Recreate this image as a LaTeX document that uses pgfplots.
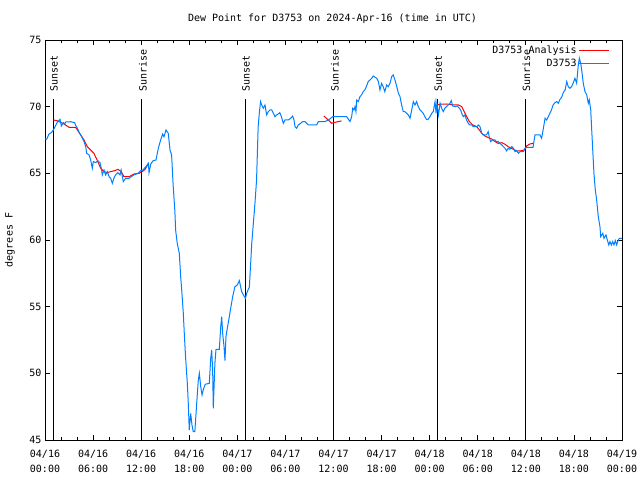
\documentclass[border=0pt]{standalone}
\usepackage{pgfplots}
\pgfplotsset{compat=1.18}
\usepackage{fontspec}
\setmainfont{DejaVu Sans Mono}
\definecolor{dblue}{RGB}{0,128,255}
\begin{document}
\begin{tikzpicture}
\path[use as bounding box] (0,0) rectangle (640bp,480bp);
\begin{axis}[
 at={(45bp,40bp)}, anchor=south west,
 scale only axis, width=577bp, height=400bp,
 xmin=0, xmax=72, ymin=45, ymax=75,
 xtick={0,6,...,72}, minor x tick num=2,
 xticklabels={{04/16\\00:00},{04/16\\06:00},{04/16\\12:00},{04/16\\18:00},{04/17\\00:00},{04/17\\06:00},{04/17\\12:00},{04/17\\18:00},{04/18\\00:00},{04/18\\06:00},{04/18\\12:00},{04/18\\18:00},{04/19\\00:00}},
 ytick={45,50,...,75},
 font=\fontsize{10bp}{12bp}\selectfont,
 xticklabel style={align=center, font=\fontsize{10bp}{15bp}\selectfont, yshift=-7bp},
 /pgf/number format/assume math mode=true,
 axis line style={line width=0.8bp},
 every tick/.style={black, line width=0.8bp},
 major tick length=5bp, minor tick length=3bp,
 title={Dew Point for D3753 on 2024-Apr-16 (time in UTC)},
 every axis title/.style={at={(axis description cs:0.4983,1)}, anchor=center, yshift=21bp},
 ylabel={degrees F},
 every axis y label/.style={at={(axis description cs:-0.0607,0.5)}, rotate=90, anchor=center},
 legend plot pos=right,
 legend cell align=right,
 legend style={at={(rel axis cs:0.979,0.99)}, anchor=north east, draw=none, fill=none, inner sep=0pt, row sep=0pt, font=\fontsize{10bp}{12bp}\selectfont},
 legend image code/.code={\draw[#1] (0bp,0bp) -- (30bp,0bp);},
 clip=true,
]
\addplot[black, line width=1bp, forget plot] coordinates {(1.0,45)(1.0,70.6)};
\addplot[black, line width=1bp, forget plot] coordinates {(12.1,45)(12.1,70.6)};
\addplot[black, line width=1bp, forget plot] coordinates {(24.97,45)(24.97,70.6)};
\addplot[black, line width=1bp, forget plot] coordinates {(36.05,45)(36.05,70.6)};
\addplot[black, line width=1bp, forget plot] coordinates {(48.93,45)(48.93,70.6)};
\addplot[black, line width=1bp, forget plot] coordinates {(59.95,45)(59.95,70.6)};
\addplot[red, line width=1bp, unbounded coords=jump] coordinates {
(1.04,69.0)(1.5,68.95)(2.37,68.7)(3.0,68.45)(3.83,68.45)(4.04,68.25)(4.45,67.88)(4.87,67.5)(5.28,67.0)(5.7,66.75)(6.1,66.5)(6.5,66.0)(6.95,65.38)(7.36,65.13)(7.77,65.05)(8.2,65.13)(8.7,65.2)(9.1,65.3)(9.5,65.13)(9.86,64.75)(10.5,64.75)(11.1,64.95)(11.73,65.0)(12.14,65.13)(12.5,65.3)(12.9,65.75)
(13,nan)
(34.8,69.3)(35.56,68.88)(35.77,68.75)(36.0,68.8)(36.6,68.88)(37.0,68.93)
(38,nan)
(48.9,70.13)(49.3,70.18)(50.1,70.2)(50.95,70.13)(51.57,70.13)(52.0,70.0)(52.3,69.63)(52.62,69.25)(52.95,68.88)(53.37,68.63)(53.87,68.5)(54.2,68.25)(54.5,68.0)(54.9,67.8)(55.3,67.68)(55.73,67.58)(56.15,67.38)(56.55,67.25)(57.0,67.3)(57.4,67.18)(57.8,67.0)(58.45,66.8)(58.86,66.68)(59.3,66.68)(59.8,66.75)(60.1,67.05)(60.5,67.2)(60.9,67.25)
};
\addlegendentry{D3753 Analysis}
\addplot[dblue, line width=1bp] coordinates {
(0,67.6)(0.2,67.55)(0.5,67.95)(0.8,68.05)(1.04,68.25)(1.33,68.6)(1.5,68.8)(1.87,69.05)(2.04,68.55)(2.28,68.8)(2.46,68.7)(2.58,68.85)(3.2,68.87)(3.7,68.8)(3.83,68.6)(4.04,68.38)(4.24,68.1)(4.45,67.88)(4.66,67.63)(4.87,67.38)(5.08,67.0)(5.2,66.5)(5.5,66.38)(5.7,66.0)(5.9,65.38)(6.03,65.88)(6.33,65.8)(6.6,65.95)(6.86,65.8)(7.03,65.38)(7.15,64.88)(7.36,65.25)(7.57,64.88)(7.77,65.13)(8.0,64.75)(8.2,64.63)(8.4,64.25)(8.6,64.63)(8.8,64.88)(9.1,65.05)(9.36,64.88)(9.5,65.25)(9.77,64.38)(10.07,64.63)(10.5,64.63)(10.77,64.75)(11.1,64.88)(11.6,65.0)(11.94,65.2)(12.2,65.25)(12.6,65.5)(12.9,65.75)(12.98,65.05)(13.2,65.7)(13.5,65.95)(13.85,66.0)(14.14,66.88)(14.43,67.5)(14.68,67.95)(14.85,67.75)(15.1,68.25)(15.38,68.0)(15.6,66.75)(15.8,66.38)(16.0,64.0)(16.2,62.25)(16.3,60.75)(16.5,59.75)(16.76,59.0)(16.93,57.25)(17.06,56.25)(17.26,54.5)(17.38,53.0)(17.55,51.13)(17.76,49.25)(17.88,47.75)(18.0,45.75)(18.18,47.0)(18.34,46.13)(18.5,45.63)(18.7,45.63)(18.93,47.75)(19.13,49.5)(19.26,50.0)(19.43,49.0)(19.6,48.38)(19.76,48.8)(20.0,49.18)(20.5,49.25)(20.68,51.13)(20.8,51.75)(20.92,50.25)(21.0,47.38)(21.2,50.75)(21.34,51.8)(21.75,51.8)(21.93,53.5)(22.05,54.25)(22.17,53.0)(22.34,52.0)(22.46,50.95)(22.58,52.75)(22.75,53.38)(23.0,54.25)(23.17,54.88)(23.42,55.75)(23.7,56.5)(24.0,56.63)(24.25,56.95)(24.54,56.13)(24.83,55.8)(25.0,55.63)(25.24,56.13)(25.5,56.45)(25.8,59.75)(26.2,62.75)(26.4,64.5)(26.6,68.5)(26.74,69.5)(26.9,70.38)(27.04,70.13)(27.24,69.88)(27.45,70.13)(27.66,69.38)(27.87,69.63)(28.08,69.75)(28.3,69.75)(28.5,69.5)(28.7,69.25)(28.9,69.38)(29.1,69.45)(29.3,69.55)(29.5,69.25)(29.74,68.75)(29.95,69.0)(30.36,69.0)(30.66,69.13)(30.9,69.3)(31.07,69.0)(31.2,68.5)(31.4,68.38)(31.6,68.63)(31.9,68.75)(32.15,68.88)(32.44,68.88)(32.65,68.75)(32.86,68.63)(33.9,68.63)(34.1,68.88)(34.94,68.88)(35.35,69.0)(35.65,69.13)(35.9,69.25)(37.64,69.25)(38.06,68.88)(38.27,69.25)(38.4,69.88)(38.55,69.75)(38.68,70.0)(38.8,69.63)(38.9,70.5)(39.1,70.38)(39.3,70.75)(39.5,70.88)(39.7,71.13)(39.9,71.25)(40.1,71.5)(40.33,71.88)(40.55,72.0)(40.77,72.13)(40.96,72.3)(41.2,72.2)(41.4,72.13)(41.6,71.88)(41.8,71.25)(42.0,71.75)(42.2,71.5)(42.4,71.13)(42.64,71.63)(42.84,71.5)(43.05,71.75)(43.26,72.25)(43.46,72.38)(43.67,72.0)(43.9,71.5)(44.1,71.0)(44.3,70.75)(44.5,70.13)(44.7,69.63)(44.9,69.63)(45.13,69.5)(45.33,69.38)(45.55,69.13)(45.76,69.75)(45.96,70.38)(46.17,70.13)(46.37,70.38)(46.58,70.0)(46.8,69.75)(47.0,69.63)(47.2,69.5)(47.4,69.25)(47.6,69.05)(47.8,69.05)(48.04,69.25)(48.25,69.5)(48.45,69.63)(48.67,70.38)(48.8,69.5)(48.9,70.25)(49.1,69.38)(49.3,70.25)(49.5,69.88)(49.7,69.63)(49.9,69.88)(50.1,70.0)(50.33,70.13)(50.54,70.25)(50.7,70.45)(50.87,70.05)(51.16,70.0)(51.45,70.05)(51.7,69.88)(51.87,69.75)(52.0,69.5)(52.2,69.25)(52.4,69.38)(52.6,69.0)(52.82,68.75)(53.0,68.63)(53.24,68.63)(53.45,68.5)(53.87,68.5)(54.07,68.63)(54.28,68.5)(54.5,68.0)(54.7,67.88)(55.1,67.88)(55.3,68.13)(55.43,67.75)(55.6,67.38)(55.85,67.5)(56.15,67.5)(56.35,67.38)(56.55,67.38)(56.77,67.25)(57.0,67.13)(57.2,67.0)(57.4,66.88)(57.6,66.68)(57.8,66.88)(58.0,66.8)(58.24,67.0)(58.45,66.88)(58.66,66.63)(58.86,66.7)(59.07,66.5)(59.3,66.63)(59.7,66.63)(59.9,66.88)(60.1,66.95)(60.9,66.95)(61.14,67.88)(61.77,67.88)(61.97,67.63)(62.17,68.3)(62.4,69.13)(62.6,69.0)(62.8,69.25)(63.0,69.5)(63.2,69.75)(63.4,70.13)(63.64,70.3)(63.85,70.38)(64.06,70.25)(64.26,70.55)(64.47,70.7)(64.67,71.05)(64.9,71.25)(65.1,71.88)(65.3,71.5)(65.5,71.38)(65.7,71.5)(65.9,71.75)(66.13,72.13)(66.34,71.75)(66.55,73.13)(66.68,73.63)(66.85,73.25)(66.97,72.75)(67.17,71.75)(67.38,71.13)(67.6,70.88)(67.8,70.25)(67.92,70.5)(68.1,69.75)(68.2,68.5)(68.35,66.75)(68.5,65.0)(68.67,63.75)(68.84,63.0)(69.04,61.75)(69.25,61.0)(69.34,60.25)(69.6,60.5)(69.75,60.13)(70.0,60.38)(70.17,60.0)(70.35,59.63)(70.5,59.88)(70.67,59.63)(70.84,59.88)(71.0,59.63)(71.17,59.95)(71.34,59.63)(71.5,59.95)(71.67,60.13)(72,60.13)
};
\addlegendentry{D3753}
\node[xshift=1bp, rotate=90, anchor=west, inner sep=0pt] at (axis cs:1.0,71.1) {Sunset};
\node[xshift=1bp, rotate=90, anchor=west, inner sep=0pt] at (axis cs:12.1,71.1) {Sunrise};
\node[xshift=1bp, rotate=90, anchor=west, inner sep=0pt] at (axis cs:24.97,71.1) {Sunset};
\node[xshift=1bp, rotate=90, anchor=west, inner sep=0pt] at (axis cs:36.05,71.1) {Sunrise};
\node[xshift=1bp, rotate=90, anchor=west, inner sep=0pt] at (axis cs:48.93,71.1) {Sunset};
\node[xshift=1bp, rotate=90, anchor=west, inner sep=0pt] at (axis cs:59.95,71.1) {Sunrise};
\end{axis}
\end{tikzpicture}
\end{document}
